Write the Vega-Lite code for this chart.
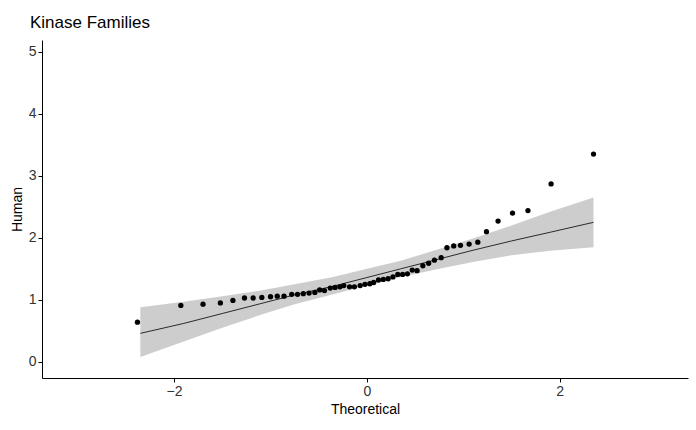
{"$schema":"https://vega.github.io/schema/vega-lite/v6.json","autosize":{"type":"none"},"padding":{"left":42,"top":40,"right":8,"bottom":52},"width":646,"height":338,"background":"white",
"title":{"text":"Kinase Families","anchor":"start","frame":"group","font":"Liberation Sans","fontSize":17,"fontWeight":"normal","color":"black","offset":8,"dx":-12},
"config":{"view":{"stroke":null},"axis":{"labelFont":"Liberation Sans","titleFont":"Liberation Sans","labelFontSize":14,"titleFontSize":14,"titleFontWeight":"normal","labelColor":"#333","titleColor":"black","domainColor":"black","tickColor":"black","grid":false,"tickSize":4,"labelPadding":2}},
"datasets":{"pts":[{"x":-2.38,"y":0.64},{"x":-1.93,"y":0.91},{"x":-1.7,"y":0.93},{"x":-1.52,"y":0.95},{"x":-1.39,"y":0.99},{"x":-1.27,"y":1.03},{"x":-1.18,"y":1.03},{"x":-1.09,"y":1.04},{"x":-1.0,"y":1.05},{"x":-0.93,"y":1.06},{"x":-0.86,"y":1.06},{"x":-0.78,"y":1.09},{"x":-0.72,"y":1.09},{"x":-0.66,"y":1.1},{"x":-0.6,"y":1.11},{"x":-0.54,"y":1.12},{"x":-0.49,"y":1.16},{"x":-0.44,"y":1.15},{"x":-0.38,"y":1.19},{"x":-0.33,"y":1.2},{"x":-0.28,"y":1.21},{"x":-0.24,"y":1.23},{"x":-0.18,"y":1.21},{"x":-0.13,"y":1.21},{"x":-0.07,"y":1.23},{"x":-0.02,"y":1.25},{"x":0.03,"y":1.26},{"x":0.07,"y":1.28},{"x":0.12,"y":1.32},{"x":0.17,"y":1.33},{"x":0.22,"y":1.34},{"x":0.27,"y":1.37},{"x":0.32,"y":1.41},{"x":0.37,"y":1.41},{"x":0.42,"y":1.42},{"x":0.47,"y":1.48},{"x":0.52,"y":1.47},{"x":0.58,"y":1.55},{"x":0.64,"y":1.59},{"x":0.7,"y":1.64},{"x":0.77,"y":1.68},{"x":0.83,"y":1.84},{"x":0.9,"y":1.87},{"x":0.97,"y":1.88},{"x":1.06,"y":1.9},{"x":1.15,"y":1.93},{"x":1.24,"y":2.1},{"x":1.36,"y":2.27},{"x":1.51,"y":2.4},{"x":1.67,"y":2.44},{"x":1.91,"y":2.87},{"x":2.35,"y":3.35}],
"band":[{"x":-2.35,"lo":0.08,"hi":0.88,"m":0.46},{"x":-1.9,"lo":0.33,"hi":0.97,"m":0.62},{"x":-1.5,"lo":0.55,"hi":1.06,"m":0.78},{"x":-1.1,"lo":0.76,"hi":1.15,"m":0.94},{"x":-0.75,"lo":0.93,"hi":1.25,"m":1.08},{"x":-0.35,"lo":1.09,"hi":1.37,"m":1.22},{"x":0,"lo":1.23,"hi":1.5,"m":1.36},{"x":0.35,"lo":1.37,"hi":1.63,"m":1.5},{"x":0.75,"lo":1.5,"hi":1.82,"m":1.66},{"x":1.1,"lo":1.61,"hi":1.99,"m":1.8},{"x":1.5,"lo":1.72,"hi":2.2,"m":1.95},{"x":1.9,"lo":1.79,"hi":2.42,"m":2.09},{"x":2.35,"lo":1.85,"hi":2.65,"m":2.25}]},
"layer":[
{"data":{"name":"band"},"mark":{"type":"area","color":"#c8c8c8","opacity":0.9},"encoding":{"x":{"field":"x","type":"quantitative"},"y":{"field":"lo","type":"quantitative"},"y2":{"field":"hi"}}},
{"data":{"name":"band"},"mark":{"type":"line","color":"black","strokeWidth":0.8},"encoding":{"x":{"field":"x","type":"quantitative"},"y":{"field":"m","type":"quantitative"}}},
{"data":{"name":"pts"},"mark":{"type":"circle","color":"black","opacity":1,"size":28},"encoding":{
"x":{"field":"x","type":"quantitative","title":"Theoretical","scale":{"domain":[-3.37,3.33],"nice":false,"zero":false},"axis":{"values":[-2,0,2],"format":"d","titlePadding":4}},
"y":{"field":"y","type":"quantitative","title":"Human","scale":{"domain":[-0.26,5.19],"nice":false,"zero":false},"axis":{"values":[0,1,2,3,4,5],"format":"d","titlePadding":4}}}}
]}
